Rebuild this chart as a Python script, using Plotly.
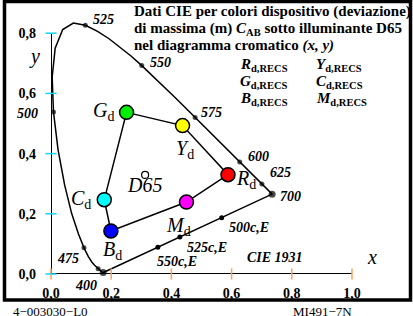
import plotly.graph_objects as go

# ---------------- data ----------------
wavelengths = [380, 385, 390, 395, 400, 405, 410, 415, 420, 425, 430, 435, 440, 445, 450,
               455, 460, 465, 470, 475, 480, 485, 490, 495, 500, 505, 510, 515, 520, 525,
               530, 535, 540, 545, 550, 555, 560, 565, 570, 575, 580, 585, 590, 595, 600,
               605, 610, 615, 620, 625, 630, 635, 640, 645, 650, 655, 660, 665, 670, 675,
               680, 685, 690, 695, 700]
locus_x = [0.1741, 0.1740, 0.1738, 0.1736, 0.1733, 0.1730, 0.1726, 0.1721, 0.1714, 0.1703,
           0.1689, 0.1669, 0.1644, 0.1611, 0.1566, 0.1510, 0.1440, 0.1355, 0.1241, 0.1096,
           0.0913, 0.0687, 0.0454, 0.0235, 0.0082, 0.0039, 0.0139, 0.0389, 0.0743, 0.1142,
           0.1547, 0.1929, 0.2296, 0.2658, 0.3016, 0.3373, 0.3731, 0.4087, 0.4441, 0.4788,
           0.5125, 0.5448, 0.5752, 0.6029, 0.6270, 0.6482, 0.6658, 0.6801, 0.6915, 0.7006,
           0.7079, 0.7140, 0.7190, 0.7230, 0.7260, 0.7283, 0.7300, 0.7311, 0.7320, 0.7327,
           0.7334, 0.7340, 0.7344, 0.7346, 0.7347]
locus_y = [0.0050, 0.0050, 0.0049, 0.0049, 0.0048, 0.0048, 0.0048, 0.0048, 0.0051, 0.0058,
           0.0069, 0.0086, 0.0109, 0.0138, 0.0177, 0.0227, 0.0297, 0.0399, 0.0578, 0.0868,
           0.1327, 0.2007, 0.2950, 0.4127, 0.5384, 0.6548, 0.7502, 0.8120, 0.8338, 0.8262,
           0.8059, 0.7816, 0.7543, 0.7243, 0.6923, 0.6589, 0.6245, 0.5896, 0.5547, 0.5202,
           0.4866, 0.4544, 0.4242, 0.3965, 0.3725, 0.3514, 0.3340, 0.3197, 0.3083, 0.2993,
           0.2920, 0.2859, 0.2809, 0.2770, 0.2740, 0.2717, 0.2700, 0.2689, 0.2680, 0.2673,
           0.2666, 0.2660, 0.2656, 0.2654, 0.2653]

marked_x = [0.1733, 0.1566, 0.1096, 0.0082, 0.1142, 0.3016, 0.4788, 0.6270, 0.7006, 0.7347]
marked_y = [0.0048, 0.0177, 0.0868, 0.5384, 0.8262, 0.6923, 0.5202, 0.3725, 0.2993, 0.2653]
marked_size = [7, 5, 5, 5, 5, 5, 5, 5, 5, 7]

purple_x = [0.567, 0.428, 0.355]
purple_y = [0.187, 0.123, 0.089]

dev_names = ["G", "Y", "R", "M", "B", "C"]
dev_x = [0.251, 0.437, 0.588, 0.450, 0.199, 0.177]
dev_y = [0.537, 0.493, 0.330, 0.239, 0.143, 0.247]
dev_colors = ["#00ee00", "#ffff00", "#ff0000", "#ff00ff", "#0000ff", "#00ffff"]

d65_x = [0.3127]
d65_y = [0.3290]

x_ticks = [0.0, 0.2, 0.4, 0.6, 0.8, 1.0]
y_ticks = [0.0, 0.2, 0.4, 0.6, 0.8]

FONT = "Liberation Serif"

# plot area: left 51 px, width 301 px; top 2 px, height 272 px
def PX(px):
    return (px - 51) / 301.0


def PY(py):
    return (274 - py) / 272.0


fig = go.Figure()

fig.add_trace(go.Scatter(x=locus_x + [locus_x[0]], y=locus_y + [locus_y[0]], mode="lines",
                         line=dict(color="black", width=1.5), hoverinfo="skip"))
fig.add_trace(go.Scatter(x=dev_x + [dev_x[0]], y=dev_y + [dev_y[0]], mode="lines",
                         line=dict(color="black", width=1.5), hoverinfo="skip"))
fig.add_trace(go.Scatter(x=[x_ticks[0], x_ticks[-1]], y=[0, 0], mode="lines",
                         line=dict(color="black", width=2), hoverinfo="skip"))
fig.add_trace(go.Scatter(x=[0, 0], y=[y_ticks[0], y_ticks[-1]], mode="lines",
                         line=dict(color="black", width=2), hoverinfo="skip"))
fig.add_trace(go.Scatter(x=x_ticks, y=[0] * len(x_ticks), mode="markers", cliponaxis=False,
                         marker=dict(symbol="line-ns-open", size=8,
                                     line=dict(color="black", width=1.5))))
fig.add_trace(go.Scatter(x=[0] * len(y_ticks), y=y_ticks, mode="markers", cliponaxis=False,
                         marker=dict(symbol="line-ew-open", size=8,
                                     line=dict(color="black", width=1.5))))
fig.add_trace(go.Scatter(x=marked_x, y=marked_y, mode="markers", cliponaxis=False,
                         marker=dict(color="black", size=marked_size, line=dict(width=0))))
fig.add_trace(go.Scatter(x=purple_x, y=purple_y, mode="markers", cliponaxis=False,
                         marker=dict(color="black", size=5, line=dict(width=0))))
fig.add_trace(go.Scatter(x=d65_x, y=d65_y, mode="markers", cliponaxis=False,
                         marker=dict(color="white", size=7, line=dict(color="black", width=1.2))))
fig.add_trace(go.Scatter(x=dev_x, y=dev_y, mode="markers", cliponaxis=False,
                         marker=dict(color=dev_colors, size=14,
                                     line=dict(color="black", width=1.5))))

ann = []


def add(text, px, py, size=15, bold=True, xanchor="left"):
    ann.append(dict(text=text, x=PX(px), y=PY(py), xref="paper", yref="paper",
                    showarrow=False, xanchor=xanchor, yanchor="middle", borderpad=0,
                    font=dict(family=FONT, size=size, color="black",
                              weight="bold" if bold else "normal")))


add("Dati CIE per colori dispositivo (deviazione)", 133, 12)
add("di massima (m) <i>C</i><sub>AB</sub> sotto illuminante D65", 133, 29)
add("nel diagramma cromatico <i>(x, y)</i>", 133, 45)
add("<i>R</i><sub>d,RECS</sub>", 239, 65)
add("<i>G</i><sub>d,RECS</sub>", 239, 82)
add("<i>B</i><sub>d,RECS</sub>", 239, 99)
add("<i>Y</i><sub>d,RECS</sub>", 315, 65)
add("<i>C</i><sub>d,RECS</sub>", 315, 82)
add("<i>M</i><sub>d,RECS</sub>", 315, 99)
for t, px, py in [("525", 92, 19), ("550", 149, 63), ("575", 200, 112), ("600", 247, 156),
                  ("625", 269, 172), ("700", 279, 196), ("500", 16, 113), ("475", 56, 258),
                  ("400", 74, 285), ("500c,E", 228, 227), ("525c,E", 186, 247),
                  ("550c,E", 156, 261), ("CIE 1931", 246, 257)]:
    add("<i>" + t + "</i>", px, py, size=14)
add("<i>x</i>", 366, 257, size=20, bold=False)
add("<i>y</i>", 28, 57, size=20, bold=False)
for t, px, py in [("G", 92, 111), ("Y", 175, 149), ("R", 235, 179), ("M", 165, 226),
                  ("B", 102, 250), ("C", 70, 199)]:
    add("<i>" + t + "</i><sub>d</sub>", px, py, size=20, bold=False)
add("<i>D65</i>", 126, 185, size=20, bold=False)
add("4−003030−L0", 12, 311, size=13, bold=False)
add("MI491−7N", 292, 311, size=13, bold=False)

shapes = [dict(type="rect", xref="paper", yref="paper", x0=PX(4.5), x1=PX(410.5),
               y0=PY(300), y1=PY(1.5), line=dict(color="black", width=3.5),
               fillcolor="rgba(0,0,0,0)", layer="above")]

fig.update_layout(
    width=413, height=316,
    margin=dict(l=51, r=61, t=2, b=42, autoexpand=False),
    paper_bgcolor="white", plot_bgcolor="white",
    showlegend=False,
    separators=",.",
    annotations=ann,
    shapes=shapes,
    font=dict(family=FONT),
)
fig.update_xaxes(range=[0, 1], showgrid=False, zeroline=False, showline=False,
                 automargin=False,
                 tickvals=x_ticks, tickformat=".1f", ticks="", ticklabelstandoff=9,
                 tickfont=dict(family=FONT, size=14, color="black", weight="bold"))
fig.update_yaxes(range=[0, 272 / 301.0], showgrid=False, zeroline=False, showline=False,
                 automargin=False,
                 tickvals=y_ticks, tickformat=".1f", ticks="", ticklabelstandoff=14,
                 tickfont=dict(family=FONT, size=14, color="black", weight="bold"))

fig.write_html("out.html", config=dict(displayModeBar=False),
               post_script="document.body.style.margin='0px';document.body.style.overflow='hidden';")
